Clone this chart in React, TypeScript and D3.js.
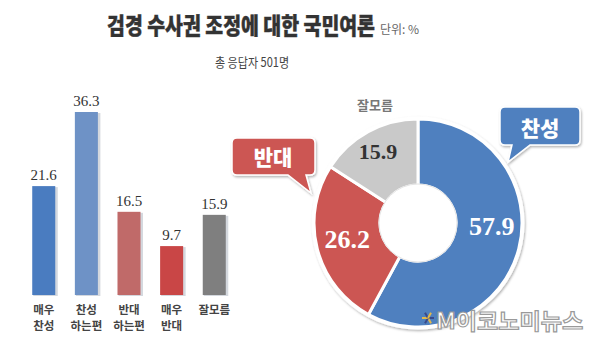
import React from "react";
import * as d3 from "d3";

const barCategories = [["매우", "찬성"], ["찬성", "하는편"], ["반대", "하는편"], ["매우", "반대"], ["잘모름"]];
const barValues = [21.6, 36.3, 16.5, 9.7, 15.9];
const barColors = ["#4a7cc0", "#6e92c6", "#c06a69", "#c94646", "#7f7f7f"];

const donutLabels = ["찬성", "반대", "잘모름"];
const donutValues = [57.9, 26.2, 15.9];
const donutColors = ["#4f80bf", "#cc5653", "#c9c9c9"];
const donutTextColors = ["#ffffff", "#ffffff", "#333333"];

const title = "검경 수사권 조정에 대한 국민여론";
const unitText = "단위: %";
const subtitle = "총 응답자 501명";
const watermark = "M이코노미뉴스";

const KR = "'Noto Sans CJK KR', 'Noto Sans', sans-serif";
const SERIF = "'Liberation Serif', 'DejaVu Serif', serif";

export default function App() {
  const W = 600, H = 356;
  const baseY = 295;
  const x = d3.scaleBand<number>().domain(d3.range(barValues.length)).range([22, 236]).paddingInner(0.46).paddingOuter(0.24);
  const y = d3.scaleLinear().domain([0, 36.3]).range([baseY, 112]);

  const cx = 418, cy = 223, R = 104, r0 = 38;
  const pie = d3.pie<number>().sort(null).value((d) => d);
  const arcs = pie(donutValues);
  const arc = d3.arc<d3.PieArcDatum<number>>().innerRadius(r0).outerRadius(R);
  const labelArc = d3.arc<d3.PieArcDatum<number>>().innerRadius(75).outerRadius(75);
  const labelNudge = [[1, -15], [2, -2], [-4, -6]];

  return (
    <svg width={W} height={H} style={{ display: "block", position: "absolute", left: 0, top: 0, background: "#fff" }}>
      <defs>
        <filter id="sh" x="-20%" y="-20%" width="140%" height="140%">
          <feDropShadow dx="1" dy="1.5" stdDeviation="1.2" floodColor="#000" floodOpacity="0.3" />
        </filter>
      </defs>
      <rect width={W} height={H} fill="#fff" />
      {/* Title */}
      <g transform="translate(241,34) scale(0.845,1)">
        <text x={0} y={0} textAnchor="middle" fontFamily={KR} fontWeight={900} fontSize={23} fill="#333" stroke="#333" strokeWidth={0.4}>{title}</text>
      </g>
      <text x={380} y={34} fontFamily={KR} fontSize={12} fill="#666">{unitText}</text>
      <g transform="translate(252,67) scale(0.85,1)">
        <text x={0} y={0} textAnchor="middle" fontFamily={KR} fontSize={13} fill="#444">{subtitle}</text>
      </g>

      {/* Bars */}
      {barValues.map((v, i) => {
        const bx = x(i)!;
        const bw = x.bandwidth();
        return (
          <g key={i}>
            <rect x={bx + 1} y={y(v) + 1} width={bw + 1.5} height={baseY - y(v)} fill="#d4d8de" />
            <rect x={bx} y={y(v)} width={bw} height={baseY - y(v)} fill={barColors[i]} />
            <text x={bx + bw / 2} y={y(v) - 6} textAnchor="middle" fontFamily={SERIF} fontSize={15} fill="#333">{v.toFixed(1)}</text>
            {barCategories[i].map((line, j) => (
              <text key={j} x={bx + bw / 2} y={314 + j * 16} textAnchor="middle" fontFamily={KR} fontWeight={700} fontSize={11.5} fill="#444">{line}</text>
            ))}
          </g>
        );
      })}

      {/* Donut */}
      <g transform={`translate(${cx},${cy})`}>
        <circle r={R + 2.5} fill="#fff" filter="url(#sh)" />
        {arcs.map((a, i) => (
          <path key={i} d={arc(a) || ""} fill={donutColors[i]} stroke="#fff" strokeWidth={3} />
        ))}
        <circle r={r0 + 1} fill="#fff" stroke="#e4e4e4" strokeWidth={1} />
        {arcs.map((a, i) => {
          const [lx, ly] = labelArc.centroid(a);
          return (
            <text key={i} x={lx + labelNudge[i][0]} y={ly + labelNudge[i][1]} textAnchor="middle" dominantBaseline="central" fontFamily={SERIF} fontWeight={700} fontSize={i === 2 ? 22 : 26} fill={donutTextColors[i]}>{donutValues[i].toFixed(1)}</text>
          );
        })}
      </g>
      <text x={375} y={110} textAnchor="middle" fontFamily={KR} fontWeight={700} fontSize={13} fill="#777">{donutLabels[2]}</text>

      {/* Callout 찬성 */}
      <g filter="url(#sh)">
        <path d="M505,107 H575 Q580,107 580,112 V140 Q580,145 575,145 H530 L508,162 L512,145 H505 Q500,145 500,140 V112 Q500,107 505,107 Z" fill={donutColors[0]} stroke="#fff" strokeWidth={1.5} />
      </g>
      <text x={540} y={127} textAnchor="middle" dominantBaseline="central" fontFamily={KR} fontWeight={900} fontSize={21} fill="#fff">{donutLabels[0]}</text>

      {/* Callout 반대 */}
      <g filter="url(#sh)">
        <path d="M237,138 H310 Q315,138 315,143 V170 Q315,175 310,175 H306 L311,193 L288,175 H237 Q232,175 232,170 V143 Q232,138 237,138 Z" fill={donutColors[1]} stroke="#fff" strokeWidth={1.5} />
      </g>
      <text x={273} y={156} textAnchor="middle" dominantBaseline="central" fontFamily={KR} fontWeight={900} fontSize={21} fill="#fff">{donutLabels[1]}</text>

      {/* Watermark */}
      <g transform="translate(428,318)">
        {d3.range(6).map((k) => (
          <line key={k} x1={0} y1={0} x2={6 * Math.cos((k * Math.PI) / 3)} y2={6 * Math.sin((k * Math.PI) / 3)} stroke={k % 2 ? "#e3b94a" : "#3a4a8a"} strokeWidth={2} />
        ))}
      </g>
      <g transform="translate(436,329) scale(1.05,1)">
        <text x={0} y={0} fontFamily={KR} fontWeight={700} fontSize={22} fill="#fff" stroke="#9a9a9a" strokeWidth={1.2}>{watermark}</text>
      </g>
    </svg>
  );
}
